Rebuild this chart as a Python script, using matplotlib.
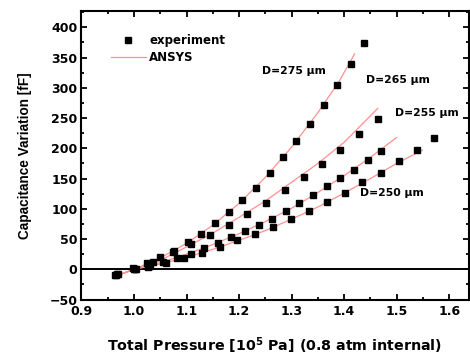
import matplotlib
matplotlib.use("Agg")
import matplotlib.pyplot as plt
from matplotlib.ticker import MultipleLocator

plt.rcParams['font.family'] = ['DejaVu Sans']
plt.rcParams['font.weight'] = 'bold'
plt.rcParams['mathtext.default'] = 'bf'

# experiment points (pressure in 1e5 Pa, capacitance variation in fF)
p275 = [0.965, 0.999, 1.024, 1.050, 1.076, 1.102, 1.128, 1.154, 1.180, 1.206,
        1.232, 1.258, 1.283, 1.309, 1.335, 1.361, 1.387, 1.413, 1.438]
c275 = [-9, 2, 10, 21, 31, 45, 59, 76, 94, 114,
        135, 160, 186, 212, 241, 272, 304, 339, 374]

p265 = [0.968, 1.002, 1.037, 1.075, 1.109, 1.145, 1.180, 1.216, 1.252, 1.287,
        1.323, 1.357, 1.393, 1.429, 1.464]
c265 = [-7, 1, 13, 29, 42, 57, 74, 92, 110, 131,
        152, 174, 198, 223, 249]

p255 = [0.964, 1.000, 1.030, 1.056, 1.082, 1.108, 1.134, 1.159, 1.185, 1.212,
        1.238, 1.263, 1.290, 1.315, 1.341, 1.367, 1.393, 1.419, 1.445, 1.470]
c255 = [-10, 0, 6, 12, 19, 26, 35, 44, 53, 63,
        73, 84, 97, 110, 123, 137, 151, 165, 181, 196]

p250 = [0.970, 1.004, 1.027, 1.061, 1.095, 1.130, 1.163, 1.197, 1.231, 1.265,
        1.299, 1.334, 1.368, 1.402, 1.435, 1.470, 1.504, 1.538, 1.572]
c250 = [-7, 0, 4, 11, 18, 27, 37, 48, 58, 70,
        83, 97, 112, 127, 144, 160, 179, 198, 217]

# ANSYS curves
ap275 = [0.965, 1.0, 1.05, 1.1, 1.15, 1.2, 1.25, 1.3, 1.35, 1.39, 1.42]
ac275 = [-11, 0, 19, 43, 73, 109, 152, 202, 259, 310, 356]
ap265 = [0.965, 1.0, 1.05, 1.1, 1.15, 1.2, 1.25, 1.3, 1.35, 1.4, 1.464]
ac265 = [-11, 0, 15, 37, 60, 86, 113, 144, 175, 210, 266]
ap255 = [0.965, 1.0, 1.05, 1.1, 1.15, 1.2, 1.25, 1.3, 1.35, 1.4, 1.45, 1.5]
ac255 = [-11, 0, 11, 25, 41, 59, 79, 101, 127, 155, 185, 218]
ap250 = [0.965, 1.0, 1.05, 1.1, 1.15, 1.2, 1.25, 1.3, 1.35, 1.4, 1.45, 1.5, 1.549]
ac250 = [-11, 0, 9, 20, 33, 48, 64, 83, 103, 126, 150, 175, 197]

labels = ["D=275 \u03bcm", "D=265 \u03bcm", "D=255 \u03bcm", "D=250 \u03bcm"]
label_pos = [(1.244, 328), (1.442, 313), (1.497, 259), (1.430, 126)]

xticks = [0.9, 1.0, 1.1, 1.2, 1.3, 1.4, 1.5, 1.6]
xticklabels = ['0.9', '1.0', '1.1', '1.2', '1.3', '1.4', '1.5', '1.6']

fig = plt.figure(figsize=(4.7, 3.55), dpi=100)
ax = fig.add_axes([0.1734, 0.156, 0.8236, 0.813])

ax.axhline(0, color='black', lw=1.4, zorder=1)

line_col = '#ff9090'
for ap, ac in [(ap275, ac275), (ap265, ac265), (ap255, ac255), (ap250, ac250)]:
    ax.plot(ap, ac, color=line_col, lw=0.9, zorder=2)
for p, c in [(p275, c275), (p265, c265), (p255, c255), (p250, c250)]:
    ax.plot(p, c, 's', color='black', ms=4, zorder=3)

for txt, (x, y) in zip(labels, label_pos):
    ax.text(x, y, txt, fontsize=7.8, fontweight='bold', va='center', ha='left')

# legend handles
h1, = ax.plot([], [], 's', color='black', ms=4)
h2, = ax.plot([], [], color=line_col, lw=0.9)
ax.legend([h1, h2], ['experiment', 'ANSYS'], loc='upper left', frameon=False,
          prop={'size': 8.5, 'weight': 'bold'}, handlelength=2.9,
          handletextpad=0.3, labelspacing=0.3,
          bbox_to_anchor=(0.065, 0.935), borderaxespad=0)

ax.set_xlim(0.9, 1.637)
ax.set_ylim(-50, 427)
ax.set_xticks(xticks)
ax.set_xticklabels(xticklabels)
ax.xaxis.set_minor_locator(MultipleLocator(0.05))
ax.yaxis.set_major_locator(MultipleLocator(50))
ax.yaxis.set_minor_locator(MultipleLocator(25))
ax.tick_params(which='both', direction='in', top=True, right=True,
               width=1.3, labelsize=9)
ax.tick_params(axis='x', pad=4)
ax.tick_params(axis='y', pad=3)
ax.tick_params(which='major', length=4.5)
ax.tick_params(which='minor', length=2.5)
for s in ax.spines.values():
    s.set_linewidth(1.5)

ax.set_xlabel('Total Pressure [10$^5$ Pa] (0.8 atm internal)', fontsize=10.3,
              fontweight='bold')
ax.xaxis.set_label_coords(0.5, -0.125)
ax.set_ylabel('Capacitance Variation [fF]', fontsize=9.8, fontweight='bold',
              family='Liberation Sans')
ax.yaxis.set_label_coords(-0.128, 0.5)

fig.savefig('out.png', dpi=100)
